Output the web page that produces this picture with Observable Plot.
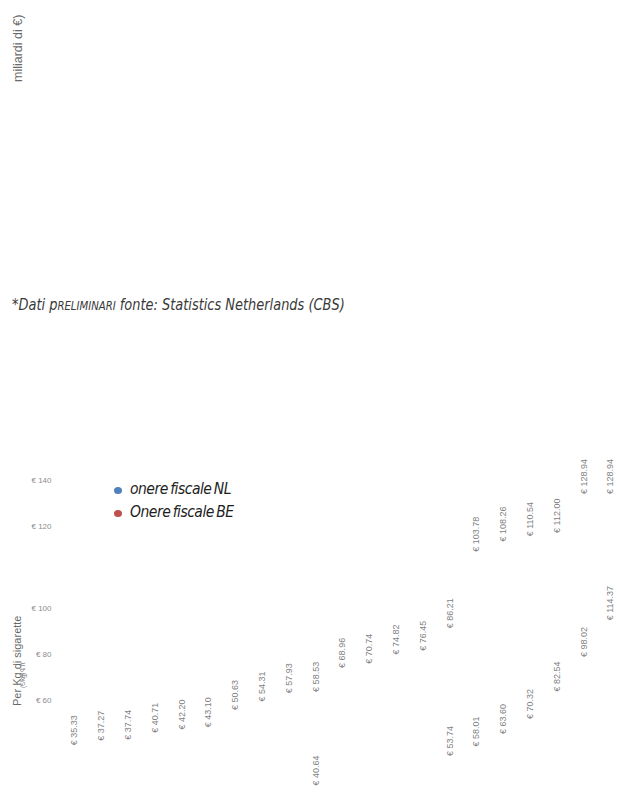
<!DOCTYPE html>
<html>
<head>
<meta charset="utf-8">
<script src="https://cdn.jsdelivr.net/npm/d3@7"></script>
<script src="https://cdn.jsdelivr.net/npm/@observablehq/plot@0.6"></script>
<style>
  html, body { margin: 0; padding: 0; background: #fff; }
  #chart { position: relative; width: 617px; height: 805px; overflow: hidden; background: #fff; }
  #chart svg { position: absolute; left: 0; top: 0; overflow: visible; background: transparent; }
  .abs { position: absolute; white-space: nowrap; }
  .vert { transform-origin: 0 0; transform: rotate(-90deg); }
  #unit { left: 11px; top: 82px; font: 12.5px "Liberation Sans", Arial, sans-serif; color: #6a6a6a; }
  #caption { left: 12px; top: 295px; font: italic 16px "DejaVu Sans Condensed", "DejaVu Sans", sans-serif; color: #3a3a3a; transform-origin: 0 0; }
  #caption .sc { font-size: 12.5px; }
  #ylabel { left: 11px; top: 706px; font: 11px "Liberation Sans", Arial, sans-serif; color: #6a6a6a; }
  #ysub { left: 19px; top: 688px; font: 7px "Liberation Sans", Arial, sans-serif; color: #8a8a8a; letter-spacing: -0.5px; }
  .legend { font: italic 15.5px "Liberation Sans Narrow", "DejaVu Sans Condensed", sans-serif; color: #1e1e1e; letter-spacing: -0.5px; word-spacing: -1.5px; }
  .legend .dot { position: absolute; width: 8px; height: 7px; border-radius: 50%; }
</style>
</head>
<body>
<div id="chart"></div>
<script>
// Years of the series (one column each)
const years = ["2000", "2001", "2002", "2003", "2004", "2005", "2006", "2007", "2008", "2009", "2010",
               "2011", "2012", "2013", "2014", "2015", "2016", "2017", "2018", "2019", "2020"];

// Tax burden per kg of cigarettes, Netherlands (€)
const nlValues = [35.33, 37.27, 37.74, 40.71, 42.20, 43.10, 50.63, 54.31, 57.93, 58.53, 68.96,
                  70.74, 74.82, 76.45, 86.21, 103.78, 108.26, 110.54, 112.00, 128.94, 128.94];

// Tax burden per kg of cigarettes, Belgium (€); null where no value is shown
const beValues = [null, null, null, null, null, null, null, null, null, 40.64, null,
                  null, null, null, 53.74, 58.01, 63.60, 70.32, 82.54, 98.02, 114.37];

// Axis ticks: lower and upper part of the broken axis
const yTicksLow = [60, 80, 100];
const yTicksHigh = [120, 140];

const seriesNames = ["onere fiscale NL", "Onere fiscale BE"];
const seriesColors = ["#4f81bd", "#c0504d"];

const nl = years.map((year, i) => ({year, value: nlValues[i]}));
const be = years.map((year, i) => ({year, value: beValues[i]})).filter(d => d.value != null);
const nlLow = nl.filter(d => d.value <= 100);
const nlHigh = nl.filter(d => d.value > 100);

const fmt = d3.format(".2f");
const W = 617, H = 805;
const font = "Liberation Sans, Arial, sans-serif";

const frame = {
  width: W, height: H,
  marginTop: 0, marginRight: 0, marginBottom: 0, marginLeft: 0,
  style: {background: "transparent", overflow: "visible"},
  x: {type: "point", domain: years, range: [74, 610], padding: 0, round: false, axis: null}
};

const labels = data => Plot.text(data, {
  x: "year", y: "value", text: d => `€ ${fmt(d.value)}`,
  rotate: -90, textAnchor: "start", dy: -12, fontSize: 9, fontFamily: font, fill: "#7f7f7f"
});

const ticks = values => Plot.axisY({
  ticks: values, tickSize: 0, tickPadding: 0, dx: 51, label: null,
  tickFormat: d => `€ ${d}`, fontSize: 8, fill: "#8c8c8c", fontFamily: font
});

// Lower part of the primary axis (up to €100)
const plotLow = Plot.plot({
  ...frame,
  y: {domain: [0, 150], range: [838, 493], axis: null},
  marks: [ticks(yTicksLow), labels(nlLow)]
});

// Upper part of the primary axis (above €100)
const plotHigh = Plot.plot({
  ...frame,
  y: {domain: [0, 150], range: [802, 457], axis: null},
  marks: [ticks(yTicksHigh), labels(nlHigh)]
});

// BE values on their own axis
const plotBE = Plot.plot({
  ...frame,
  y: {domain: [0, 150], range: [888, 552], axis: null},
  marks: [labels(be)]
});

const chart = document.getElementById("chart");
chart.innerHTML = `
  <div id="unit" class="abs vert">miliardi di €)</div>
  <div id="caption" class="abs">*Dati p<span class="sc">RELIMINARI</span> fonte: Statistics Netherlands (CBS)</div>
  <div id="ylabel" class="abs vert">Per Kg di sigarette</div>
  <div id="ysub" class="abs vert">(€/kg) ₠ π</div>
`;
chart.appendChild(plotLow);
chart.appendChild(plotHigh);
chart.appendChild(plotBE);

// Fit the caption to its line width
const caption = document.getElementById("caption");
caption.style.transform = `scaleX(${333 / caption.offsetWidth})`;

// Legend
seriesNames.forEach((name, i) => {
  const item = document.createElement("div");
  item.className = "abs legend";
  item.style.left = "114px";
  item.style.top = (480 + i * 23) + "px";
  item.innerHTML = `<span class="dot" style="left:0;top:7px;background:${seriesColors[i]}"></span>` +
                   `<span style="margin-left:16px">${name}</span>`;
  chart.appendChild(item);
});
</script>
</body>
</html>
